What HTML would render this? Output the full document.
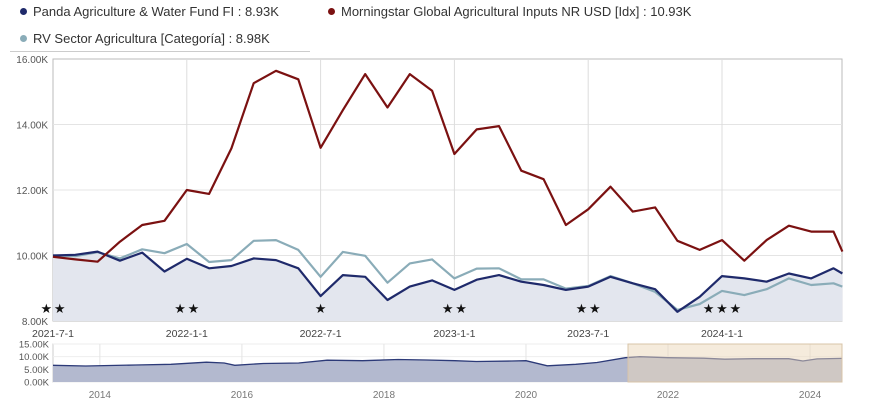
<!DOCTYPE html>
<html><head><meta charset="utf-8"><style>
body{margin:0;background:#fff;width:895px;height:413px;overflow:hidden;font-family:"Liberation Sans",sans-serif}
.leg{position:absolute;font-size:13px;color:#333;white-space:nowrap}
.dot{display:inline-block;width:7px;height:7px;border-radius:50%;margin-right:6px;vertical-align:1px}
</style></head><body>
<div class="leg" style="left:20px;top:4px"><span class="dot" style="background:#1f2a6b"></span>Panda Agriculture &amp; Water Fund FI : 8.93K</div>
<div class="leg" style="left:328px;top:4px"><span class="dot" style="background:#7b1111"></span>Morningstar Global Agricultural Inputs NR USD [Idx] : 10.93K</div>
<div class="leg" style="left:20px;top:31px"><span class="dot" style="background:#8aacb8"></span>RV Sector Agricultura [Categoría] : 8.98K</div>
<div style="position:absolute;left:10px;top:51px;width:300px;height:1px;background:#ccc"></div>
<svg id="c" width="895" height="413" style="position:absolute;left:0;top:0"></svg>
<script>
const xTickLabels=["2021-7-1","2022-1-1","2022-7-1","2023-1-1","2023-7-1","2024-1-1"];
const xTickIdx=[0,6,12,18,24,30];
const yTicks=[8,10,12,14,16];
const pointIdx=[0,1,2,3,4,5,6,7,8,9,10,11,12,13,14,15,16,17,18,19,20,21,22,23,24,25,26,27,28,29,30,31,32,33,34,35,35.4];
const fund=[10.0,10.02,10.12,9.84,10.09,9.51,9.9,9.61,9.68,9.91,9.86,9.61,8.76,9.40,9.35,8.64,9.05,9.24,8.95,9.26,9.40,9.20,9.10,8.95,9.05,9.35,9.15,8.97,8.28,8.74,9.37,9.30,9.20,9.45,9.30,9.61,9.45];
const index=[9.96,9.88,9.81,10.42,10.93,11.06,12.0,11.88,13.27,15.26,15.64,15.38,13.29,14.44,15.54,14.52,15.54,15.03,13.1,13.85,13.95,12.59,12.33,10.93,11.41,12.1,11.34,11.47,10.45,10.17,10.47,9.84,10.47,10.91,10.73,10.73,10.12];
const category=[10.0,9.98,10.10,9.91,10.19,10.07,10.35,9.80,9.86,10.45,10.47,10.17,9.35,10.11,9.99,9.17,9.76,9.88,9.30,9.60,9.61,9.27,9.27,8.99,9.07,9.37,9.15,8.89,8.34,8.52,8.92,8.79,8.97,9.30,9.10,9.15,9.05];
const starIdx=[-0.3,0.3,5.7,6.3,12,17.7,18.3,23.7,24.3,29.4,30,30.6];
const navYears=[2013.34,2013.8,2014.5,2015.0,2015.5,2015.75,2015.9,2016.3,2016.8,2017.2,2017.7,2018.2,2018.6,2019.0,2019.3,2019.8,2020.0,2020.3,2020.7,2021.0,2021.4,2021.6,2022.0,2022.5,2022.8,2023.2,2023.7,2023.9,2024.1,2024.45];
const navVals=[6.6,6.3,6.7,7.0,7.8,7.5,6.6,7.3,7.5,8.6,8.4,8.9,8.7,8.4,8.1,8.3,8.4,6.4,7.0,7.7,9.6,10.0,9.6,9.4,9.0,9.2,9.2,8.3,9.1,9.3];
const navTicks=[0,5,10,15];
const navYearTicks=[2014,2016,2018,2020,2022,2024];
const svg=document.getElementById('c');const NS='http://www.w3.org/2000/svg';
function mk(t,a,p){const e=document.createElementNS(NS,t);for(const k in a)e.setAttribute(k,a[k]);(p||svg).appendChild(e);return e;}
const L=53,R=842,T=59,B=321;
const xS=i=>L+i*22.3;
const yS=v=>B-(v-8)/8*(B-T);
mk('rect',{x:L,y:T,width:R-L,height:B-T,fill:'#fff',stroke:'#bbb'});
yTicks.forEach(v=>{const y=yS(v);if(v>8&&v<16){const l=mk('line',{x1:L,x2:R,y1:y,y2:y,stroke:'#e4e4e4'});}
const t=mk('text',{x:L-5,y:y+4,'text-anchor':'end','font-size':'10',fill:'#555'});t.textContent=v.toFixed(2)+'K';});
xTickIdx.forEach((i,k)=>{const x=xS(i);if(k>0){const l=mk('line',{x1:x,x2:x,y1:T,y2:B,stroke:'#ddd'});}
const t=mk('text',{x:x,y:337,'text-anchor':'middle','font-size':'10.5',fill:'#444'});t.textContent=xTickLabels[k];});
const pts=a=>a.map((v,i)=>xS(pointIdx[i]).toFixed(1)+','+yS(v).toFixed(1)).join(' ');
const area=mk('polygon',{points:pts(fund)+' '+xS(pointIdx[pointIdx.length-1])+','+B+' '+L+','+B,fill:'#e3e6ee'});

[[category,'#8aacb8','category-line'],[fund,'#1f2a6b','fund-line'],[index,'#7b1111','index-line']].forEach(([d,c,n])=>{
const p=mk('polyline',{points:pts(d),fill:'none',stroke:c,'stroke-width':2.2,'stroke-linejoin':'round'});});
starIdx.forEach(i=>{const t=mk('text',{x:xS(i),y:313,'text-anchor':'middle','font-size':'13',fill:'#111'});t.textContent='★';});
// navigator
const NL=53,NR=842,NT=344,NB=382;
const nx=y=>NL+(y-2013.34)/(2024.45-2013.34)*(NR-NL);
const ny=v=>NB-v/15*(NB-NT);
const nb=mk('rect',{x:NL,y:NT,width:NR-NL,height:NB-NT,fill:'#fff',stroke:'#ccc'});
navTicks.forEach(v=>{const y=ny(v);mk('line',{x1:NL,x2:NR,y1:y,y2:y,stroke:'#eee'});const t=mk('text',{x:NL-4,y:y+3.5,'text-anchor':'end','font-size':'9.5',fill:'#555'});t.textContent=v.toFixed(2)+'K';});
navYearTicks.forEach(yr=>{const x=nx(yr);mk('line',{x1:x,x2:x,y1:NT,y2:NB,stroke:'#e4e4e4'});const t=mk('text',{x:x,y:398,'text-anchor':'middle','font-size':'10',fill:'#777'});t.textContent=yr;});
const np=navYears.map((y,i)=>nx(y).toFixed(1)+','+ny(navVals[i]).toFixed(1)).join(' ');
const na=mk('polygon',{points:np+' '+NR+','+NB+' '+NL+','+NB,fill:'#b3b9cf'});
const nl=mk('polyline',{points:np,fill:'none',stroke:'#2c3a78','stroke-width':1.3});
const sel=mk('rect',{x:628,y:NT,width:NR-628,height:NB-NT,fill:'rgba(235,215,185,0.5)',stroke:'#d8c4a8'});
</script>
</body></html>
